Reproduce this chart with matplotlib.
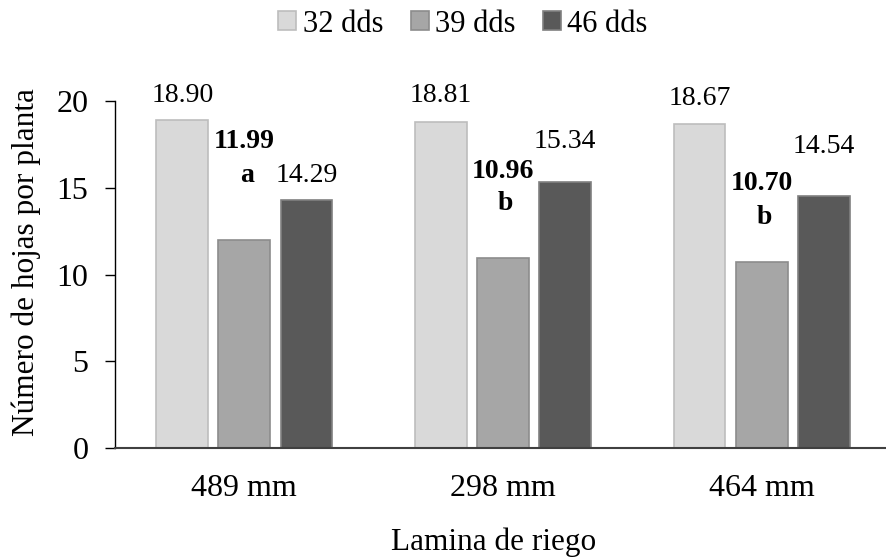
import matplotlib.pyplot as plt
from matplotlib.patches import Patch

plt.rcParams['font.family'] = ['Liberation Serif', 'DejaVu Serif']

# data
laminas = ["489 mm", "298 mm", "464 mm"]
series = ["32 dds", "39 dds", "46 dds"]
v32 = [18.90, 18.81, 18.67]
v39 = [11.99, 10.96, 10.70]
v46 = [14.29, 15.34, 14.54]
letras = ["a", "b", "b"]

# label placement (data y of the baseline), dragged by hand in the original
y32 = [19.94, 19.94, 19.77]
y39 = [17.29, 15.56, 14.87]
y39_letra = [15.33, 13.72, 12.90]
y46 = [15.33, 17.29, 17.00]

fills = ["#d9d9d9", "#a6a6a6", "#595959"]
edges = ["#bdbdbd", "#8c8c8c", "#808080"]

fig = plt.figure(figsize=(8.87, 5.59), dpi=100)
ax = fig.add_axes([115 / 887, 1 - 448 / 559, 776 / 887, 347 / 559])

x = range(len(laminas))
w = 0.20
off = 0.24
for i, vals in enumerate([v32, v39, v46]):
    xs = [xi + (i - 1) * off for xi in x]
    ax.bar(xs, vals, width=w, color=fills[i], edgecolor=edges[i], linewidth=1.2)

for j in x:
    ax.text(j - off, y32[j], f"{v32[j]:.2f}", ha="center", va="baseline", fontsize=20)
    ax.text(j + off, y46[j], f"{v46[j]:.2f}", ha="center", va="baseline", fontsize=20)
    ax.text(j, y39[j], f"{v39[j]:.2f}", ha="center", va="baseline", fontsize=20, fontweight="bold")
    ax.text(j + 0.01, y39_letra[j], letras[j], ha="center", va="baseline", fontsize=20, fontweight="bold")

ax.set_xlim(-0.5, 2.5)
ax.set_ylim(0, 20)
ax.set_yticks([0, 5, 10, 15, 20])
ax.set_xticks(list(x))
ax.set_xticklabels(laminas)
ax.tick_params(axis="y", direction="out", length=7, width=1, labelsize=23, pad=12)
ax.tick_params(axis="x", length=0, labelsize=23, pad=19)

for s in ["top", "right"]:
    ax.spines[s].set_visible(False)
ax.spines["left"].set_color("black")
ax.spines["left"].set_linewidth(1)
ax.spines["bottom"].set_color("#404040")
ax.spines["bottom"].set_linewidth(1.5)

fig.text(494 / 887, 1 - 550 / 559, "Lamina de riego", ha="center", va="baseline", fontsize=22.5)
fig.text(26 / 887, 1 - 262 / 559, "Número de hojas por planta", ha="center", va="center",
         rotation=90, fontsize=22.5)

handles = [Patch(facecolor=fills[i], edgecolor=edges[i], linewidth=1.2) for i in range(3)]
fig.legend(handles, series, loc="center", bbox_to_anchor=(463 / 887, 1 - 24 / 559), ncol=3,
           frameon=False, fontsize=22, handlelength=0.6, handleheight=0.6,
           handletextpad=0.2, columnspacing=0.9, borderpad=0, borderaxespad=0)

fig.savefig("out.png", dpi=100)
